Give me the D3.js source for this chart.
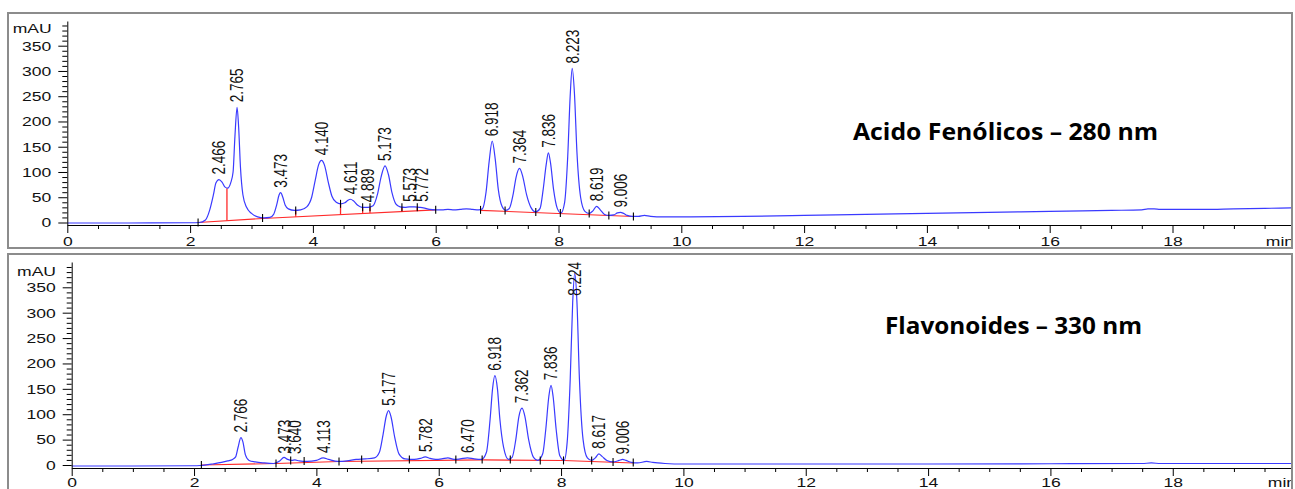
<!DOCTYPE html>
<html><head><meta charset="utf-8">
<script src="https://cdn.jsdelivr.net/npm/d3@7"></script>
<style>html,body{margin:0;padding:0;background:#fff;} svg{display:block;font-family:"Liberation Sans",Arial,sans-serif;}</style>
</head><body><svg id="c" width="1295" height="489"></svg>
<script>
// ---------- DATA ----------
const xTicks = [0, 2, 4, 6, 8, 10, 12, 14, 16, 18];
const yTicks = [0, 50, 100, 150, 200, 250, 300, 350];
const xUnit = "min";
const yUnit = "mAU";
const titles = ["Acido Fenólicos – 280 nm", "Flavonoides – 330 nm"];

// time (min), absorbance (mAU)
const topTrace = [[0,-1],[1,-1],[2.0,-0.5],[2.15,0],[2.25,5],[2.32,25],[2.38,55],[2.42,78],[2.47,85],[2.52,80],[2.57,70],[2.61,68],[2.66,78],[2.70,100],[2.73,170],[2.765,228],[2.79,190],[2.82,110],[2.86,55],[2.92,30],[3.0,18],[3.1,11],[3.2,9],[3.3,10],[3.36,16],[3.41,35],[3.45,55],[3.475,59],[3.51,50],[3.55,34],[3.6,27],[3.7,24],[3.8,25],[3.9,31],[3.98,50],[4.04,85],[4.09,113],[4.14,123],[4.19,113],[4.25,80],[4.31,52],[4.38,40],[4.45,37],[4.52,39],[4.57,44],[4.61,46],[4.66,43],[4.73,34],[4.8,30],[4.86,30],[4.9,30],[4.98,33],[5.05,55],[5.11,90],[5.175,112],[5.23,95],[5.29,58],[5.35,37],[5.42,31],[5.5,30],[5.57,31],[5.65,31],[5.73,30],[5.8,29],[5.9,26],[6.0,25],[6.1,25],[6.2,26],[6.3,25],[6.4,26],[6.5,27],[6.6,26],[6.7,25],[6.76,27],[6.82,60],[6.87,120],[6.92,161],[6.97,125],[7.02,65],[7.08,32],[7.14,24],[7.2,28],[7.26,55],[7.31,90],[7.365,107],[7.42,90],[7.48,55],[7.55,30],[7.63,21],[7.7,28],[7.75,65],[7.8,115],[7.835,138],[7.87,118],[7.92,65],[7.98,28],[8.04,19],[8.1,40],[8.15,130],[8.19,250],[8.223,305],[8.26,255],[8.3,140],[8.36,50],[8.43,22],[8.5,18],[8.56,23],[8.62,32],[8.68,25],[8.75,16],[8.82,14],[8.9,15],[8.96,19],[9.01,20],[9.06,18],[9.12,14],[9.2,12],[9.3,12],[9.4,14],[9.5,12],[9.7,11],[10,11],[11,12],[12,14],[13,16],[14,18],[15,20],[16,22],[17,24],[17.5,25],[17.6,27],[17.7,27],[17.8,26],[18,26],[18.5,26],[19,27],[19.5,28],[20,29]];

const bottomTrace = [[0,-2],[1,-2],[2.0,-1.5],[2.1,-1],[2.3,2],[2.45,5],[2.55,8],[2.63,11],[2.68,16],[2.72,35],[2.766,54],[2.8,45],[2.84,20],[2.9,9],[3.0,6],[3.15,4],[3.3,3],[3.4,8],[3.47,15],[3.53,11],[3.6,9],[3.65,10],[3.72,8],[3.85,7],[4.0,9],[4.11,14],[4.2,11],[4.35,7],[4.5,8],[4.65,11],[4.8,12],[4.95,14],[5.03,25],[5.09,60],[5.14,95],[5.18,107],[5.22,95],[5.28,55],[5.35,22],[5.45,12],[5.6,11],[5.7,13],[5.78,16],[5.86,13],[5.95,11],[6.05,12],[6.15,14],[6.25,11],[6.35,12],[6.47,14],[6.58,12],[6.7,11],[6.78,25],[6.84,90],[6.88,150],[6.918,176],[6.96,150],[7.0,90],[7.06,35],[7.14,11],[7.2,15],[7.26,50],[7.31,95],[7.362,112],[7.41,95],[7.47,50],[7.55,15],[7.62,9],[7.7,22],[7.75,70],[7.8,135],[7.836,157],[7.87,135],[7.92,70],[7.98,18],[8.05,9],[8.1,45],[8.15,170],[8.19,320],[8.224,378],[8.26,320],[8.3,170],[8.36,50],[8.43,14],[8.5,9],[8.56,14],[8.617,22],[8.67,17],[8.75,9],[8.85,6],[8.95,9],[9.006,11],[9.06,9],[9.15,5],[9.25,4],[9.4,7],[9.5,5],[9.7,3],[10,2],[12,2],[14,2],[16,2.5],[17.5,3],[17.65,4],[17.8,3],[19,3],[20,3]];

// integration baselines (red)
const topBaseline1 = [[2.13,0],[3.18,8],[6.0,25]];
const topBaseline2 = [[6.73,24],[9.22,12]];
const bottomBaseline = [[2.12,0],[3.34,3],[4.37,7],[6.71,10],[8.04,9],[9.18,4]];

// red drop lines: time, baseline value, trace value
const topDropTimes = [2.60, 3.72, 4.45, 4.81, 4.93, 5.45, 5.70];
const topDropBase  = [3.6, 11.3, 15.7, 17.8, 18.6, 21.7, 23.2];
const topDropTop   = [68, 24, 37, 30, 30, 30, 30];

// black integration marks: time, value
const topMarkTimes  = [2.13, 3.18, 3.72, 4.45, 4.81, 4.93, 5.45, 5.70, 6.0, 6.73, 7.13, 7.63, 8.03, 8.5, 8.82, 9.22];
const topMarkValues = [0, 9, 24, 37, 30, 30, 30, 30, 25, 25, 24, 21, 19, 18, 14, 12];
const bottomMarkTimes  = [2.12, 3.34, 3.58, 3.80, 4.37, 4.74, 5.52, 6.28, 6.71, 7.17, 7.66, 8.04, 8.5, 8.85, 9.18];
const bottomMarkValues = [0, 3, 9, 8, 7, 11, 11, 11, 11, 11, 9, 9, 9, 6, 5];

// peak annotations
const topPeakTimes   = [2.466, 2.765, 3.473, 4.140, 4.611, 4.889, 5.173, 5.573, 5.772, 6.918, 7.364, 7.836, 8.223, 8.619, 9.006];
const topPeakLabels  = ["2.466","2.765","3.473","4.140","4.611","4.889","5.173","5.573","5.772","6.918","7.364","7.836","8.223","8.619","9.006"];
const topPeakHeights = [85, 228, 59, 123, 46, 30, 112, 31, 31, 161, 107, 138, 305, 32, 20];
const bottomPeakTimes   = [2.766, 3.473, 3.640, 4.113, 5.177, 5.782, 6.470, 6.918, 7.362, 7.836, 8.224, 8.617, 9.006];
const bottomPeakLabels  = ["2.766","3.473","3.640","4.113","5.177","5.782","6.470","6.918","7.362","7.836","8.224","8.617","9.006"];
const bottomPeakHeights = [54, 13, 12, 14, 107, 16, 14, 176, 112, 157, 378, 22, 11];

// ---------- LAYOUT ----------
const panels = [
  {trace: topTrace, baselines: [topBaseline1, topBaseline2], dropT: topDropTimes, dropB: topDropBase, dropTop: topDropTop,
   markT: topMarkTimes, markV: topMarkValues, pkT: topPeakTimes, pkL: topPeakLabels, pkH: topPeakHeights, title: titles[0],
   frame: [8, 13, 1284, 235], x0: 67.3, ppm: 61.4, y0: 222.5, y350: 45.7, axisTop: 21, axisY: 225, labY: 21,
   titleX: 853, titleY: 140, titleW: 305, mauX: 51.7, mauY: 33.3, minX: 1280},
  {trace: bottomTrace, baselines: [bottomBaseline], dropT: [], dropB: [], dropTop: [],
   markT: bottomMarkTimes, markV: bottomMarkValues, pkT: bottomPeakTimes, pkL: bottomPeakLabels, pkH: bottomPeakHeights, title: titles[1],
   frame: [8, 254, 1284, 260], x0: 71.7, ppm: 61.17, y0: 465, y350: 287.3, axisTop: 262, axisY: 468, labY: 19.5,
   titleX: 885, titleY: 334, titleW: 257, mauX: 56, mauY: 276, minX: 1282}
];

const svg = d3.select("#c");
const FONT = "Liberation Sans, Arial, sans-serif";
const SX = 1.3;

panels.forEach((p, pi) => {
  const g = svg.append("g");
  const [fx, fy, fw, fh] = p.frame;
  const cid = "clip" + pi;
  svg.append("clipPath").attr("id", cid).append("rect")
    .attr("x", fx + 1).attr("y", fy + 1).attr("width", fw - 2).attr("height", fh - 2);

  const x = d3.scaleLinear().domain([0, 20]).range([p.x0, p.x0 + 20 * p.ppm]);
  const y = d3.scaleLinear().domain([0, 350]).range([p.y0, p.y350]);
  const yA = y.copy().domain([y.invert(p.axisY), y.invert(p.axisTop)]).range([p.axisY, p.axisTop]);

  const inner = g.append("g").attr("clip-path", `url(#${cid})`);

  // x axis
  const xMinor = d3.range(0.5, 20, 0.5).filter(v => v % 2 !== 0);
  const gxm = inner.append("g").attr("transform", `translate(0,${p.axisY})`)
    .call(d3.axisBottom(x).tickValues(xMinor).tickSize(4).tickFormat(""));
  gxm.select(".domain").remove();
  const gx = inner.append("g").attr("transform", `translate(0,${p.axisY})`)
    .call(d3.axisBottom(x).tickValues(xTicks).tickSize(8).tickSizeOuter(0));
  gx.attr("font-size", 13.5).attr("font-family", FONT);
  gx.selectAll("text").attr("y", p.labY - 9.6).attr("transform", `scale(${SX},1)`).attr("fill", "#111");
  gx.selectAll("line,path").attr("stroke", "#000");
  inner.append("text").text(xUnit).attr("x", p.minX / SX).attr("y", p.axisY + p.labY)
    .attr("transform", `scale(${SX},1)`).attr("text-anchor", "middle")
    .attr("font-size", 13.5).attr("font-family", FONT).attr("fill", "#111");

  // y axis
  const yMinor = d3.range(10, 400, 10).filter(v => v % 50 !== 0);
  const gym = g.append("g").attr("transform", `translate(${p.x0},0)`)
    .call(d3.axisLeft(yA).tickValues(yMinor).tickSize(5).tickFormat(""));
  gym.select(".domain").remove();
  const gy = g.append("g").attr("transform", `translate(${p.x0},0)`)
    .call(d3.axisLeft(yA).tickValues(yTicks).tickSize(9).tickSizeOuter(0));
  gy.attr("font-size", 13.5).attr("font-family", FONT);
  gy.selectAll("text").attr("x", -16 / SX).attr("transform", `scale(${SX},1)`).attr("fill", "#111");
  gy.selectAll("line,path").attr("stroke", "#000");
  g.append("text").text(yUnit).attr("x", p.mauX / SX).attr("y", p.mauY)
    .attr("transform", `scale(${SX},1)`).attr("text-anchor", "end")
    .attr("font-size", 13.5).attr("font-family", FONT).attr("fill", "#111");

  // red baselines
  const lineLin = d3.line().x(d => x(d[0])).y(d => y(d[1]));
  p.baselines.forEach(b => {
    inner.append("path").attr("d", lineLin(b)).attr("fill", "none")
      .attr("stroke", "#ff2a2a").attr("stroke-width", 1.1);
  });
  // red drop lines
  p.dropT.forEach((t, i) => {
    inner.append("line").attr("x1", x(t)).attr("x2", x(t))
      .attr("y1", y(p.dropB[i])).attr("y2", y(p.dropTop[i]))
      .attr("stroke", "#ff2a2a").attr("stroke-width", 1.3);
  });

  // trace
  const line = d3.line().x(d => x(d[0])).y(d => y(d[1])).curve(d3.curveMonotoneX);
  inner.append("path").attr("d", line(p.trace)).attr("fill", "none")
    .attr("stroke", "#3a3aff").attr("stroke-width", 1.2);

  // black integration marks
  p.markT.forEach((t, i) => {
    inner.append("line").attr("x1", x(t)).attr("x2", x(t))
      .attr("y1", y(p.markV[i]) - 4).attr("y2", y(p.markV[i]) + 4)
      .attr("stroke", "#000").attr("stroke-width", 1.1);
  });

  // peak labels
  p.pkT.forEach((t, i) => {
    const txt = g.append("text").text(p.pkL[i])
      .attr("font-size", 13.5).attr("font-family", FONT).attr("fill", "#111")
      .attr("text-anchor", "start").attr("dy", "0.35em");
    const len = txt.node().getComputedTextLength();
    const base = Math.max(y(p.pkH[i]) - 5, p.axisTop + len);
    txt.attr("transform", `translate(${x(t)},${base}) scale(1.35,1) rotate(-90)`);
  });

  // title
  g.append("text").text(p.title).attr("x", p.titleX).attr("y", p.titleY)
    .attr("font-family", "Open Sans, Lato, sans-serif").attr("font-weight", 700)
    .attr("font-size", 23).attr("fill", "#000")
    .attr("textLength", p.titleW).attr("lengthAdjust", "spacingAndGlyphs");

  // frame
  g.append("rect").attr("x", fx).attr("y", fy).attr("width", fw).attr("height", fh)
    .attr("fill", "none").attr("stroke", "#8c8c8c").attr("stroke-width", 2);
});
</script></body></html>
